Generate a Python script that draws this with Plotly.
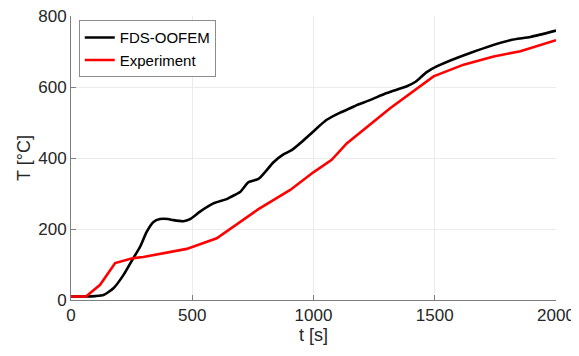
import plotly.graph_objects as go

# FDS-OOFEM series
t_fds = [0, 60, 100, 134, 175, 216, 257, 285, 312, 340, 367, 400, 422, 463, 491,
         532, 587, 642, 658, 697, 732, 773, 800, 835, 876, 910, 951, 998, 1053,
         1110, 1151, 1178, 1233, 1302, 1385, 1419, 1467, 1508, 1646, 1811, 1894, 2000]
T_fds = [10, 10, 11, 14, 33, 70, 118, 150, 192, 220, 228, 228, 225, 222, 228,
         249, 272, 284, 290, 304, 332, 341, 360, 388, 410, 422, 445, 474, 507,
         528, 540, 549, 563, 583, 602, 614, 642, 658, 696, 732, 741, 759]

# Experiment series
t_exp = [0, 62, 120, 182, 257, 298, 477, 601, 773, 904, 998, 1075, 1137, 1316,
         1495, 1619, 1743, 1853, 2000]
T_exp = [10, 10, 43, 104, 118, 121, 144, 174, 256, 310, 359, 395, 441, 540,
         630, 663, 686, 701, 732]

x_ticks = [0, 500, 1000, 1500, 2000]
y_ticks = [0, 200, 400, 600, 800]

fig = go.Figure()
fig.add_trace(go.Scatter(x=t_fds, y=T_fds, mode="lines", name="FDS-OOFEM",
                         line=dict(color="black", width=2.6, shape="spline", smoothing=0.6)))
fig.add_trace(go.Scatter(x=t_exp, y=T_exp, mode="lines", name="Experiment",
                         line=dict(color="#ff0000", width=2.6)))

font = "Liberation Sans, Arial, sans-serif"
# page body has an 8px default margin, so the figure is 8px smaller and margins shifted
fig.update_layout(
    width=571, height=348,
    margin=dict(l=63, r=23, t=8, b=56, autoexpand=False),
    paper_bgcolor="white", plot_bgcolor="white",
    font=dict(family=font, color="#262626", size=17),
    showlegend=True,
    legend=dict(x=0.016, y=0.985, xanchor="left", yanchor="top",
                bgcolor="white", bordercolor="#8c8c8c", borderwidth=1,
                font=dict(size=15, color="black"), itemwidth=30,
                tracegroupgap=0, traceorder="normal"),
    xaxis=dict(range=[0, 2000], tickvals=x_ticks, ticktext=[str(v) for v in x_ticks],
               showgrid=True, gridcolor="#ebebeb", gridwidth=1,
               showline=True, linecolor="#7f7f7f", linewidth=1,
               ticks="inside", ticklen=5, tickcolor="#7f7f7f", automargin=False,
               ticklabeloverflow="allow",
               zeroline=False, title=dict(text="t [s]", font=dict(size=18), standoff=2),
               tickfont=dict(size=17)),
    yaxis=dict(range=[0, 800], tickvals=y_ticks, ticktext=[str(v) for v in y_ticks],
               showgrid=True, gridcolor="#ebebeb", gridwidth=1,
               showline=True, linecolor="#7f7f7f", linewidth=1,
               ticks="inside", ticklen=5, tickcolor="#7f7f7f", automargin=False,
               ticklabeloverflow="allow",
               zeroline=False, title=dict(text="T [°C]", font=dict(size=18), standoff=2),
               tickfont=dict(size=17)),
)

fig.write_html("out.html")
